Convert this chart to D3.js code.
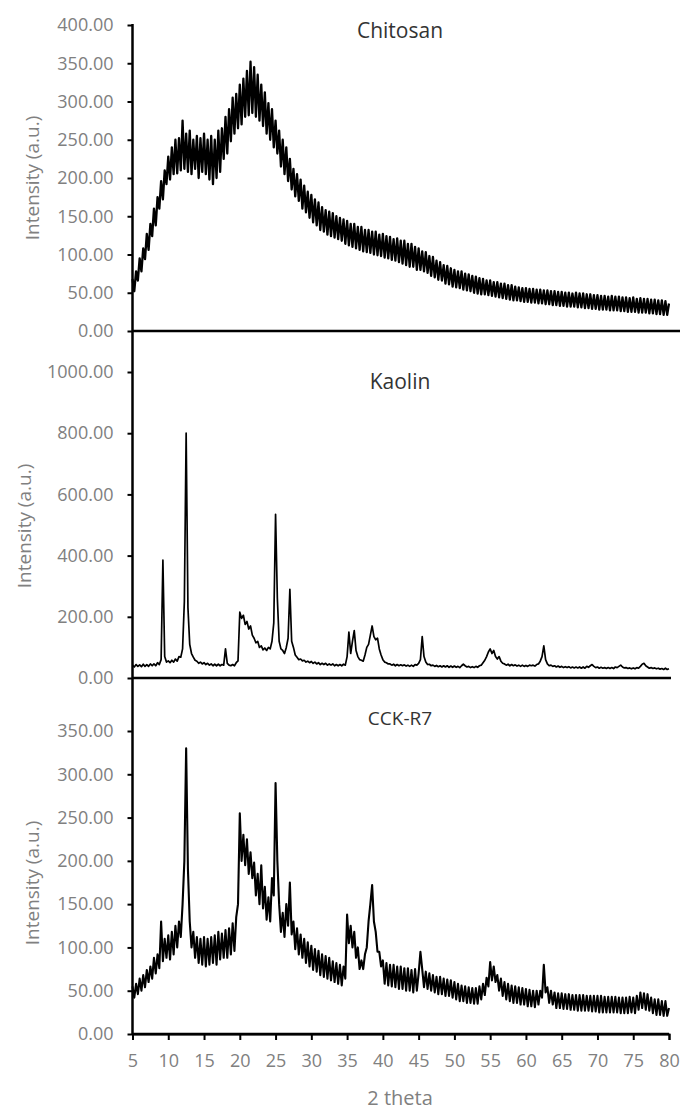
<!DOCTYPE html>
<html>
<head>
<meta charset="utf-8">
<script src="https://cdn.jsdelivr.net/npm/d3@7"></script>
<style>
  body { margin: 0; background: #fff; }
  text { font-family: "Open Sans", sans-serif; }
</style>
</head>
<body>
<div id="chart"></div>
<script>
// x sampling: every 0.25 degree from 5 to 80 (4 samples per degree)
const thetaStart = 5, thetaStep = 0.25;
const xTicks = [5, 10, 15, 20, 25, 30, 35, 40, 45, 50, 55, 60, 65, 70, 75, 80];

const chitosanTicks = [0, 50, 100, 150, 200, 250, 300, 350, 400];
const kaolinTicks = [0, 200, 400, 600, 800, 1000];
const cckTicks = [0, 50, 100, 150, 200, 250, 300, 350];

const titles = ["Chitosan", "Kaolin", "CCK-R7"];

// intensities, 4 per degree (noise kept as up/down samples)
const chitosan = [
  68, 52, 78, 66,   95, 78, 108, 94,   127, 106, 140, 124,   160, 138, 175, 160,   196, 172, 210, 192,  // 5-9
  228, 198, 240, 205,   250, 206, 252, 210,   275, 212, 258, 208,   262, 205, 250, 212,   255, 200, 252, 208,  // 10-14
  258, 205, 250, 198,   255, 192, 250, 200,   262, 208, 265, 225,   280, 232, 290, 248,   305, 258, 310, 265,  // 15-19
  322, 270, 330, 280,   340, 282, 352, 285,   345, 280, 335, 275,   322, 268, 312, 258,   298, 250, 290, 240,  // 20-24
  275, 232, 262, 215,   250, 205, 240, 196,   225, 185, 212, 176,   205, 170, 198, 160,   190, 155, 182, 148,  // 25-29
  178, 142, 172, 138,   168, 132, 162, 130,   158, 126, 156, 124,   154, 122, 150, 120,   148, 118, 146, 114,  // 30-34
  144, 112, 140, 110,   140, 108, 136, 106,   136, 104, 132, 103,   132, 102, 130, 100,   130, 99, 126, 98,    // 35-39
  127, 96, 124, 95,   123, 93, 120, 92,   121, 90, 118, 88,   118, 86, 114, 84,   114, 84, 110, 80,          // 40-44
  108, 80, 104, 78,   103, 76, 98, 72,   97, 70, 92, 67,   90, 66, 86, 62,   85, 61, 82, 58,                 // 45-49
  80, 57, 78, 56,   78, 54, 75, 53,   74, 52, 72, 50,   71, 49, 69, 48,   68, 48, 66, 47,                     // 50-54
  66, 46, 64, 45,   64, 44, 62, 43,   62, 42, 60, 41,   60, 40, 58, 40,   57, 39, 56, 38,                     // 55-59
  56, 38, 55, 37,   55, 37, 54, 36,   54, 36, 53, 35,   53, 35, 52, 34,   52, 34, 51, 33,                     // 60-64
  51, 33, 50, 32,   50, 32, 49, 32,   50, 31, 49, 31,   49, 30, 48, 30,   48, 29, 47, 29,                     // 65-69
  47, 28, 46, 28,   46, 28, 45, 27,   46, 27, 45, 27,   45, 26, 44, 26,   44, 25, 43, 25,                     // 70-74
  44, 25, 42, 24,   43, 24, 42, 24,   42, 23, 41, 23,   41, 22, 40, 22,   40, 21, 39, 21,                     // 75-79
  36                                                                                                          // 80
];

const kaolin = [
  42, 36, 44, 38,   43, 37, 45, 38,   44, 38, 46, 40,   46, 40, 50, 44,   60, 385, 70, 52,               // 5-9
  56, 50, 58, 52,   62, 55, 70, 68,   95, 250, 800, 230,   110, 80, 68, 58,   55, 48, 52, 46,         // 10-14
  50, 44, 48, 42,   46, 40, 45, 40,   45, 40, 44, 42,   95, 48, 42, 40,   44, 40, 50, 56,             // 15-19
  215, 195, 205, 175,   185, 160, 170, 140,   130, 115, 120, 100,   105, 92, 98, 90,   100, 95, 120, 180,  // 20-24
  535, 260, 120, 95,   90, 80, 100, 130,   290, 120, 100, 75,   68, 60, 62, 56,   58, 52, 55, 50,       // 25-29
  54, 48, 52, 46,   50, 44, 48, 44,   48, 42, 46, 42,   46, 40, 44, 40,   44, 40, 45, 42,               // 30-34
  70, 150, 80, 120,   155, 90, 70, 60,   58, 55, 75, 100,   110, 140, 170, 135,   125, 130, 95, 75,     // 35-39
  60, 52, 50, 46,   46, 42, 45, 40,   44, 40, 43, 40,   43, 39, 42, 38,   42, 38, 44, 42,               // 40-44
  48, 60, 135, 70,   52, 44, 45, 40,   42, 38, 41, 37,   40, 36, 40, 36,   40, 35, 39, 35,             // 45-49
  39, 35, 38, 34,   40, 45, 40, 36,   38, 34, 37, 34,   38, 35, 40, 42,   50, 58, 70, 85,               // 50-54
  95, 80, 90, 70,   62, 70, 55, 48,   46, 42, 45, 40,   44, 40, 43, 39,   42, 38, 42, 38,               // 55-59
  41, 38, 42, 40,   42, 39, 44, 46,   55, 70, 105, 60,   46, 40, 42, 38,   40, 36, 39, 35,              // 60-64
  38, 34, 37, 34,   37, 33, 36, 33,   36, 33, 36, 32,   36, 32, 38, 35,   40, 44, 38, 34,               // 65-69
  36, 32, 35, 32,   34, 31, 34, 31,   34, 31, 36, 34,   38, 42, 36, 33,   34, 31, 33, 30,               // 70-74
  33, 30, 34, 32,   38, 45, 48, 40,   36, 32, 34, 31,   33, 30, 32, 29,   31, 28, 32, 28,               // 75-79
  30                                                                                                    // 80
];

const cck = [
  55, 42, 58, 46,   64, 50, 68, 54,   74, 60, 78, 64,   88, 70, 92, 76,   130, 84, 110, 88,            // 5-9
  114, 86, 118, 92,   125, 100, 130, 112,   150, 200, 330, 190,   130, 100, 118, 88,   112, 82, 110, 80,  // 10-14
  112, 78, 110, 80,   112, 82, 114, 80,   118, 86, 116, 88,   120, 88, 122, 92,   128, 96, 135, 150,    // 15-19
  255, 200, 230, 195,   225, 185, 210, 180,   198, 160, 185, 150,   195, 145, 170, 132,   158, 130, 180, 160,  // 20-24
  290, 200, 150, 118,   140, 112, 150, 125,   175, 115, 130, 98,   122, 92, 115, 88,   110, 82, 106, 78,     // 25-29
  102, 74, 98, 72,   96, 68, 92, 66,   90, 64, 88, 62,   84, 60, 82, 58,   80, 56, 78, 64,                  // 30-34
  138, 105, 125, 100,   118, 88, 100, 75,   85, 75, 92, 100,   130, 150, 172, 130,   118, 95, 95, 78,      // 35-39
  85, 58, 82, 56,   80, 55, 80, 54,   78, 52, 78, 52,   76, 50, 76, 50,   74, 48, 75, 50,                  // 40-44
  70, 95, 75, 54,   72, 52, 70, 50,   68, 48, 66, 46,   66, 46, 64, 44,   63, 44, 62, 42,                  // 45-49
  60, 40, 58, 38,   56, 38, 55, 36,   54, 36, 53, 35,   53, 35, 55, 40,   58, 45, 65, 55,                  // 50-54
  83, 62, 78, 60,   68, 50, 64, 44,   60, 40, 58, 38,   56, 36, 55, 36,   54, 34, 53, 34,                  // 55-59
  52, 32, 51, 32,   50, 31, 50, 34,   50, 42, 80, 48,   54, 36, 50, 34,   48, 30, 47, 30,                  // 60-64
  47, 29, 46, 29,   46, 28, 45, 28,   45, 27, 45, 27,   45, 27, 44, 27,   44, 26, 44, 26,                  // 65-69
  44, 25, 44, 25,   43, 25, 43, 25,   43, 25, 43, 25,   42, 24, 42, 24,   42, 24, 43, 25,                  // 70-74
  42, 24, 44, 28,   48, 30, 47, 28,   46, 27, 42, 24,   40, 22, 40, 22,   38, 21, 38, 21,                  // 75-79
  30                                                                                                        // 80
];

const width = 681, height = 1111;
const axisColor = "#000", labelColor = "#808080", titleColor = "#333";

const svg = d3
  .select("#chart")
  .append("svg")
  .attr("width", width)
  .attr("height", height)
  .style("background", "#fff");

var x = d3.scaleLinear().domain([5, 80]).range([132.5, 669]);

// one y scale per stacked panel
var panels = [
  { title: titles[0], data: chitosan, ticks: chitosanTicks,
    y: d3.scaleLinear().domain([0, 400]).range([331, 25]),
    top: 24, right: 680, titleY: 38, titleSize: 21, labelX: 32, labelY: 178, stroke: 2.3 },
  { title: titles[1], data: kaolin, ticks: kaolinTicks,
    y: d3.scaleLinear().domain([0, 1000]).range([678, 372]),
    top: 331, right: 671, titleY: 389, titleSize: 21, labelX: 24, labelY: 526, stroke: 1.7 },
  { title: titles[2], data: cck, ticks: cckTicks,
    y: d3.scaleLinear().domain([0, 350]).range([1034, 731]),
    top: 678, right: 669, titleY: 725, titleSize: 19, labelX: 32, labelY: 883, stroke: 2.1 },
];

panels.forEach(function (p) {
  var g = svg.append("g");

  // the trace
  var line = d3
    .line()
    .x(function (d, i) { return x(thetaStart + i * thetaStep); })
    .y(function (d) { return p.y(d); });

  g.append("path")
    .datum(p.data)
    .attr("d", line)
    .attr("fill", "none")
    .attr("stroke", "#000")
    .attr("stroke-linejoin", "round")
    .attr("stroke-width", p.stroke);

  // left axis
  var yAxis = g
    .append("g")
    .attr("transform", "translate(" + x(5) + ",0)")
    .call(
      d3.axisLeft(p.y)
        .tickValues(p.ticks)
        .tickFormat(d3.format(".2f"))
        .tickSize(5)
        .tickPadding(14)
    );
  yAxis.select(".domain").remove();
  yAxis.selectAll(".tick line").attr("stroke", axisColor).attr("stroke-width", 2);
  yAxis.selectAll(".tick text")
    .attr("fill", labelColor)
    .style("font-size", "18px");

  // vertical axis line for this panel
  g.append("line")
    .attr("x1", x(5)).attr("x2", x(5))
    .attr("y1", p.top).attr("y2", p.y(0))
    .attr("stroke", axisColor)
    .attr("stroke-width", 2.5);

  // baseline
  g.append("line")
    .attr("x1", x(5)).attr("x2", p.right)
    .attr("y1", p.y(0)).attr("y2", p.y(0))
    .attr("stroke", axisColor)
    .attr("stroke-width", 2.5);

  g.append("text")
    .attr("x", 400)
    .attr("y", p.titleY)
    .attr("text-anchor", "middle")
    .attr("fill", titleColor)
    .style("font-size", p.titleSize + "px")
    .text(p.title);

  g.append("text")
    .attr("transform", "translate(" + p.labelX + "," + p.labelY + ") rotate(-90)")
    .attr("text-anchor", "middle")
    .attr("dy", "0.35em")
    .attr("fill", labelColor)
    .style("font-size", "19px")
    .text("Intensity (a.u.)");
});

// bottom x axis
var xAxis = svg
  .append("g")
  .attr("transform", "translate(0," + panels[2].y(0) + ")")
  .call(d3.axisBottom(x).tickValues(xTicks).tickSize(6).tickSizeOuter(6).tickPadding(14));
xAxis.select(".domain").attr("stroke", axisColor).attr("stroke-width", 2);
xAxis.selectAll(".tick line").attr("stroke", axisColor).attr("stroke-width", 2);
xAxis.selectAll(".tick text").attr("fill", labelColor).style("font-size", "18px");

svg.append("text")
  .attr("x", 400)
  .attr("y", 1105)
  .attr("text-anchor", "middle")
  .attr("fill", labelColor)
  .style("font-size", "20px")
  .text("2 theta");
</script>
</body>
</html>
